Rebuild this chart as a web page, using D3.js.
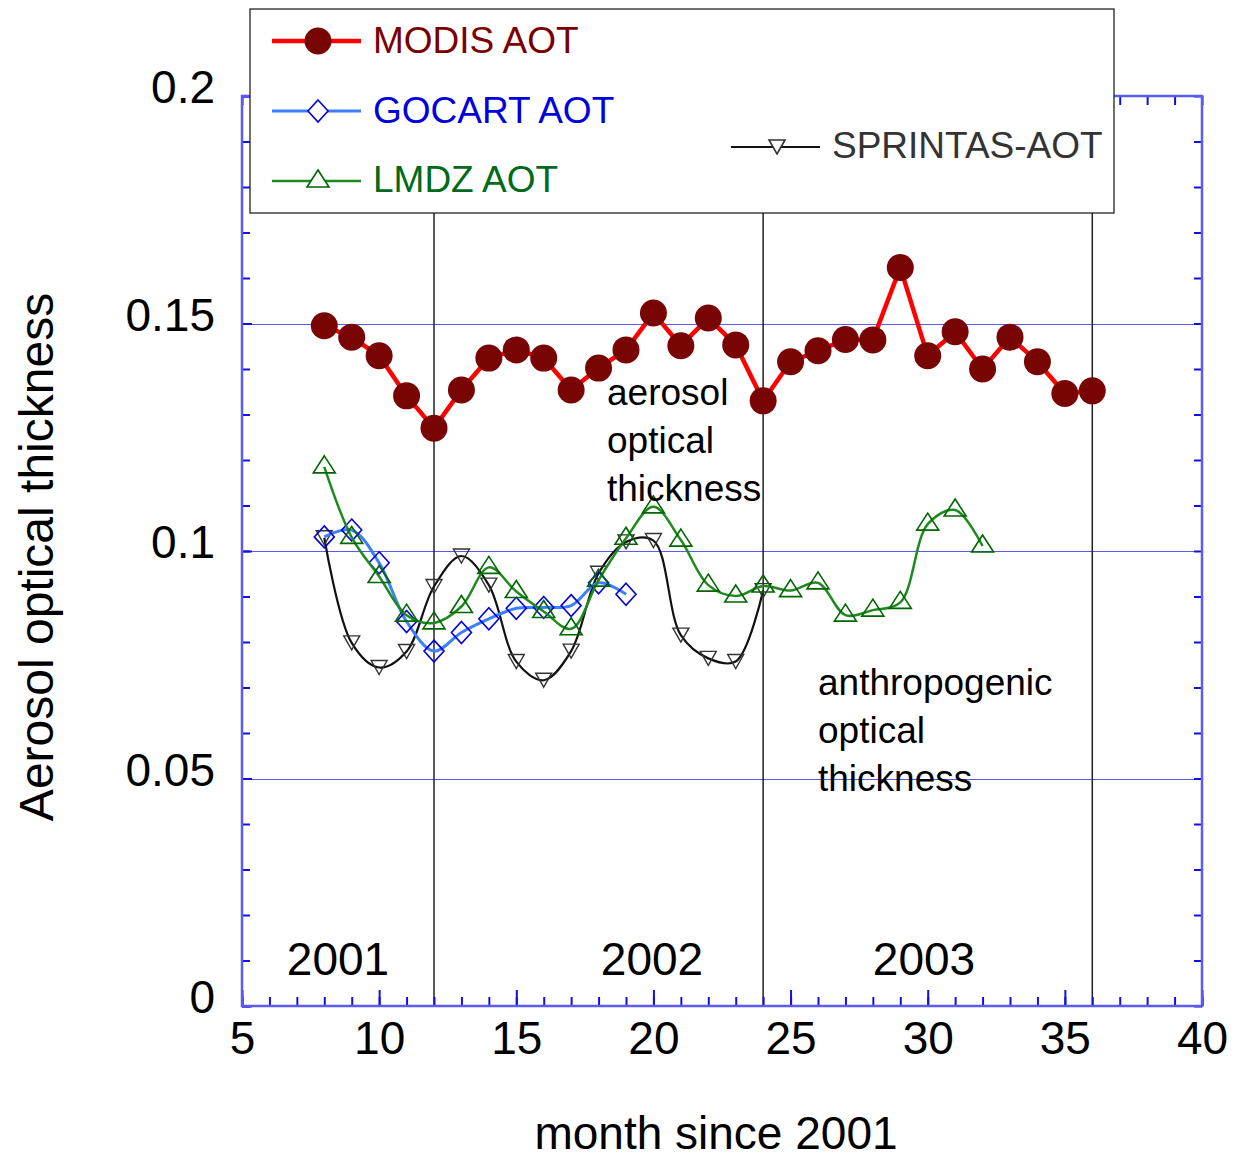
<!DOCTYPE html>
<html>
<head>
<meta charset="utf-8">
<script src="https://cdn.jsdelivr.net/npm/d3@7"></script>
<style>
  body { margin: 0; background: #fff; }
  text { font-family: Arial, "Liberation Sans", sans-serif; }
</style>
</head>
<body>
<div id="chart"></div>
<script>
// Data
const modisMonths = [8, 9, 10, 11, 12, 13, 14, 15, 16, 17, 18, 19, 20, 21, 22, 23, 24, 25, 26, 27, 28, 29, 30, 31, 32, 33, 34, 35, 36];
const modisAot = [0.1495, 0.147, 0.1429, 0.1341, 0.127, 0.1354, 0.1424, 0.1442, 0.1424, 0.1354, 0.1402, 0.1442, 0.1523, 0.1451, 0.1512, 0.1453, 0.133, 0.1416, 0.144, 0.1465, 0.1464, 0.1623, 0.1429, 0.1482, 0.140, 0.147, 0.1416, 0.1346, 0.1352];

const gocartMonths = [8, 9, 10, 11, 12, 13, 14, 15, 16, 17, 18, 19];
const gocartAot = [0.1031, 0.1046, 0.0974, 0.0845, 0.078, 0.0821, 0.0851, 0.0874, 0.0876, 0.088, 0.093, 0.0905];

const lmdzMonths = [8, 9, 10, 11, 12, 13, 14, 15, 16, 17, 18, 19, 20, 21, 22, 23, 24, 25, 26, 27, 28, 29, 30, 31, 32];
const lmdzAot = [0.1185, 0.103, 0.0944, 0.0859, 0.0842, 0.0878, 0.0964, 0.0911, 0.0867, 0.0829, 0.0936, 0.1028, 0.1097, 0.1024, 0.0925, 0.0901, 0.0923, 0.0913, 0.093, 0.0859, 0.087, 0.0887, 0.1059, 0.109, 0.1011];

const sprintasMonths = [8, 9, 10, 11, 12, 13, 14, 15, 16, 17, 18, 19, 20, 21, 22, 23, 24];
const sprintasAot = [0.1029, 0.0798, 0.0744, 0.0779, 0.0922, 0.0989, 0.0925, 0.0757, 0.0716, 0.078, 0.0951, 0.102, 0.1023, 0.0815, 0.0764, 0.0757, 0.0913];

const xMajorTicks = [5, 10, 15, 20, 25, 30, 35, 40];
const yMajorTicks = [0, 0.05, 0.1, 0.15, 0.2];
const yTickLabels = ["0", "0.05", "0.1", "0.15", "0.2"];
const gridValues = [0.05, 0.1, 0.15];
const yearLines = [12, 24, 36];
const yearLabels = [{ x: 338, text: "2001" }, { x: 652, text: "2002" }, { x: 924, text: "2003" }];

// Dimensions
const W = 1234, H = 1159;
const margin = { top: 96, left: 242, right: 32, bottom: 153 };
const width = W - margin.left - margin.right;
const height = H - margin.top - margin.bottom;

const svg = d3.select("#chart").append("svg")
  .attr("width", W)
  .attr("height", H);

const x = d3.scaleLinear().domain([5, 40]).range([margin.left, margin.left + width]);
const y = d3.scaleLinear().domain([0, 0.2]).range([margin.top + height, margin.top]);

const axisBlue = "#5b5bef";
const tickBlue = "#1010e0";

// Gridlines
svg.append("g").selectAll("line")
  .data(gridValues)
  .enter().append("line")
  .attr("x1", x(5)).attr("x2", x(40))
  .attr("y1", d => Math.round(y(d)) + 0.5).attr("y2", d => Math.round(y(d)) + 0.5)
  .attr("stroke", "#5a5af0")
  .attr("stroke-width", 1.3)
  .attr("shape-rendering", "crispEdges");

// Year separators
svg.append("g").selectAll("line")
  .data(yearLines)
  .enter().append("line")
  .attr("x1", d => x(d)).attr("x2", d => x(d))
  .attr("y1", y(0)).attr("y2", y(0.2))
  .attr("stroke", "#222")
  .attr("stroke-width", 1.5);

// Axes: minor ticks
const xMinor = d3.range(5, 41);
const yMinor = d3.range(0, 0.2001, 0.01);

function styleAxis(g) {
  g.select(".domain").remove();
  g.selectAll(".tick line").attr("stroke", tickBlue).attr("stroke-width", 2);
}

svg.append("g").attr("transform", `translate(0,${y(0)})`)
  .call(d3.axisBottom(x).tickValues(xMinor).tickSize(-9).tickFormat(""))
  .call(styleAxis);
svg.append("g").attr("transform", `translate(0,${y(0.2)})`)
  .call(d3.axisTop(x).tickValues(xMinor).tickSize(-9).tickFormat(""))
  .call(styleAxis);
svg.append("g").attr("transform", `translate(${x(5)},0)`)
  .call(d3.axisLeft(y).tickValues(yMinor).tickSize(-8).tickFormat(""))
  .call(styleAxis);
svg.append("g").attr("transform", `translate(${x(40)},0)`)
  .call(d3.axisRight(y).tickValues(yMinor).tickSize(-8).tickFormat(""))
  .call(styleAxis);

// Major ticks with labels
const xAxisG = svg.append("g").attr("transform", `translate(0,${y(0)})`)
  .call(d3.axisBottom(x).tickValues(xMajorTicks).tickSize(-16).tickPadding(15).tickFormat(d3.format("d")))
  .call(styleAxis);
xAxisG.selectAll("text").attr("font-size", 46).attr("fill", "#000");

const yAxisG = svg.append("g").attr("transform", `translate(${x(5)},0)`)
  .call(d3.axisLeft(y).tickValues(yMajorTicks).tickSize(-10).tickPadding(27)
    .tickFormat((d, i) => yTickLabels[i]))
  .call(styleAxis);
yAxisG.selectAll("text").attr("font-size", 46).attr("fill", "#000").attr("dy", "0.15em");

// Frame
svg.append("rect")
  .attr("x", x(5)).attr("y", y(0.2))
  .attr("width", x(40) - x(5)).attr("height", y(0) - y(0.2))
  .attr("fill", "none")
  .attr("stroke", axisBlue)
  .attr("stroke-width", 2.5);

// Axis titles
svg.append("text")
  .attr("x", 716).attr("y", 1149)
  .attr("text-anchor", "middle")
  .attr("font-size", 46)
  .text("month since 2001");

svg.append("text")
  .attr("transform", "translate(53,557) rotate(-90)")
  .attr("text-anchor", "middle")
  .attr("font-size", 48)
  .text("Aerosol optical thickness");

// Series
const smooth = d3.line()
  .x(d => x(d[0])).y(d => y(d[1]))
  .curve(d3.curveCatmullRom.alpha(0.5));
const straight = d3.line()
  .x(d => x(d[0])).y(d => y(d[1]));

const zip = (a, b) => a.map((m, i) => [m, b[i]]);
const modis = zip(modisMonths, modisAot);
const gocart = zip(gocartMonths, gocartAot);
const lmdz = zip(lmdzMonths, lmdzAot);
const sprintas = zip(sprintasMonths, sprintasAot);

const triUp = "M0,-11L11,6L-11,6Z";
const triDown = "M0,7L8,-7L-8,-7Z";
const diamond = "M0,-11L10,0L0,11L-10,0Z";

// SPRINTAS
svg.append("path").datum(sprintas)
  .attr("d", smooth).attr("fill", "none")
  .attr("stroke", "#111").attr("stroke-width", 2.2);
svg.append("g").selectAll("path")
  .data(sprintas).enter().append("path")
  .attr("d", triDown)
  .attr("transform", d => `translate(${x(d[0])},${y(d[1])})`)
  .attr("fill", "none").attr("stroke", "#333").attr("stroke-width", 1.4);

// GOCART
svg.append("path").datum(gocart)
  .attr("d", smooth).attr("fill", "none")
  .attr("stroke", "#3d7fff").attr("stroke-width", 3);
svg.append("g").selectAll("path")
  .data(gocart).enter().append("path")
  .attr("d", diamond)
  .attr("transform", d => `translate(${x(d[0])},${y(d[1])})`)
  .attr("fill", "none").attr("stroke", "#0000e0").attr("stroke-width", 1.6);

// LMDZ
svg.append("path").datum(lmdz)
  .attr("d", smooth).attr("fill", "none")
  .attr("stroke", "#1e8a1e").attr("stroke-width", 2.5);
svg.append("g").selectAll("path")
  .data(lmdz).enter().append("path")
  .attr("d", triUp)
  .attr("transform", d => `translate(${x(d[0])},${y(d[1])})`)
  .attr("fill", "none").attr("stroke", "#006400").attr("stroke-width", 1.6);

// MODIS
svg.append("path").datum(modis)
  .attr("d", straight).attr("fill", "none")
  .attr("stroke", "#ff0000").attr("stroke-width", 4.5);
svg.append("g").selectAll("circle")
  .data(modis).enter().append("circle")
  .attr("cx", d => x(d[0])).attr("cy", d => y(d[1]))
  .attr("r", 13.5)
  .attr("fill", "#780404");

// Annotations
const annot = svg.append("g").attr("font-size", 37).attr("fill", "#000");
["aerosol", "optical", "thickness"].forEach((t, i) => {
  annot.append("text").attr("x", 607).attr("y", 405 + i * 48).text(t);
});
["anthropogenic", "optical", "thickness"].forEach((t, i) => {
  annot.append("text").attr("x", 818).attr("y", 695 + i * 48).text(t);
});

svg.append("g").selectAll("text")
  .data(yearLabels).enter().append("text")
  .attr("x", d => d.x).attr("y", 975)
  .attr("text-anchor", "middle")
  .attr("font-size", 46)
  .text(d => d.text);

// Legend
const legend = svg.append("g");
legend.append("rect")
  .attr("x", 250).attr("y", 9).attr("width", 864).attr("height", 204)
  .attr("fill", "#fff").attr("stroke", "#111").attr("stroke-width", 1.2);

const legendItems = [
  { label: "MODIS AOT", lx: 272, ly: 41, tx: 373, ty: 53, line: "#ff0000", lw: 4.5, text: "#7a0000", mark: "circle" },
  { label: "GOCART AOT", lx: 272, ly: 111, tx: 373, ty: 123, line: "#3d7fff", lw: 3, text: "#0000dd", mark: diamond, ms: "#0000e0" },
  { label: "LMDZ AOT", lx: 272, ly: 181, tx: 373, ty: 192, line: "#1e8a1e", lw: 2.5, text: "#006a1a", mark: triUp, ms: "#006400" },
  { label: "SPRINTAS-AOT", lx: 731, ly: 147, tx: 832, ty: 158, line: "#111", lw: 2.2, text: "#333", mark: triDown, ms: "#333" }
];

legendItems.forEach(d => {
  legend.append("line")
    .attr("x1", d.lx).attr("x2", d.lx + 89)
    .attr("y1", d.ly).attr("y2", d.ly)
    .attr("stroke", d.line).attr("stroke-width", d.lw);
  const cx = d.lx + 46;
  if (d.mark === "circle") {
    legend.append("circle").attr("cx", cx).attr("cy", d.ly).attr("r", 13.5).attr("fill", "#780404");
  } else {
    legend.append("path").attr("d", d.mark)
      .attr("transform", `translate(${cx},${d.ly})`)
      .attr("fill", "#fff").attr("stroke", d.ms).attr("stroke-width", 1.6);
  }
  legend.append("text")
    .attr("x", d.tx).attr("y", d.ty)
    .attr("font-size", 37)
    .attr("fill", d.text)
    .text(d.label);
});
</script>
</body>
</html>
